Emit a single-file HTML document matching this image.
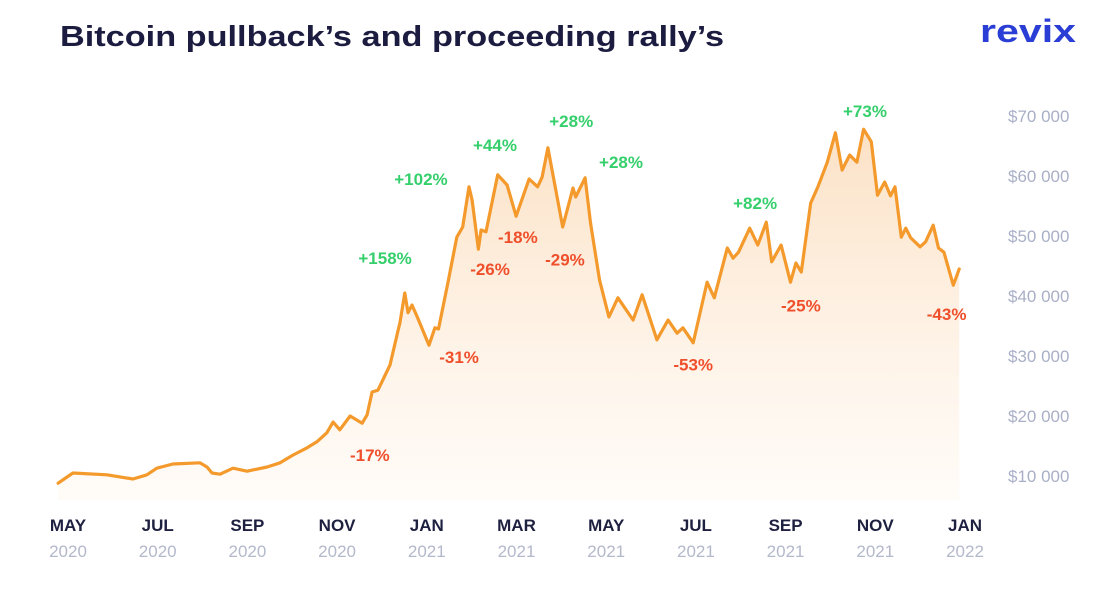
<!DOCTYPE html>
<html><head><meta charset="utf-8"><style>
body{margin:0;background:#fff;width:1104px;height:589px;overflow:hidden;font-family:"Liberation Sans",sans-serif}
svg{display:block}
</style></head><body>
<svg id="chart" width="1104" height="589" viewBox="0 0 1104 589">
<defs><linearGradient id="fillg" x1="0" y1="0" x2="0" y2="1">
<stop offset="0" stop-color="#fbdcbb" stop-opacity="0.85"/><stop offset="1" stop-color="#fff8f0" stop-opacity="0.5"/></linearGradient></defs>
<text x="60" y="46" font-size="29" font-weight="bold" fill="#1b1c3f" textLength="664" lengthAdjust="spacingAndGlyphs">Bitcoin pullback’s and proceeding rally’s</text>
<text x="1076" y="42" text-anchor="end" font-size="32" font-weight="bold" fill="#2a3ed6" textLength="96" lengthAdjust="spacingAndGlyphs">revix</text>
<g id="area"></g><g id="yaxis"></g><g id="xaxis"></g><g id="labels"></g>
</svg>
<script>
const months=[-0.22,0.11,0.87,1.45,1.76,1.98,2.34,2.94,3.10,3.21,3.39,3.68,3.99,4.44,4.73,5.02,5.33,5.55,5.77,5.91,6.06,6.29,6.56,6.67,6.78,6.91,7.02,7.18,7.36,7.40,7.51,7.58,7.67,7.80,8.05,8.18,8.26,8.47,8.67,8.80,8.94,9.01,9.15,9.21,9.32,9.58,9.79,9.99,10.28,10.47,10.57,10.70,11.03,11.26,11.32,11.53,11.65,11.85,12.06,12.26,12.60,12.80,13.13,13.38,13.58,13.71,13.94,14.25,14.41,14.70,14.83,14.95,15.20,15.38,15.57,15.69,15.90,16.11,16.23,16.35,16.56,16.72,16.93,17.11,17.26,17.43,17.59,17.74,17.91,18.05,18.21,18.34,18.44,18.58,18.68,18.79,19.00,19.12,19.29,19.41,19.53,19.74,19.87];
const prices=[8800,10500,10200,9500,10200,11300,12000,12200,11500,10500,10300,11300,10800,11500,12200,13500,14700,15700,17200,19000,17700,20000,18800,20200,24000,24300,26000,28500,34300,35500,40500,37200,38500,36300,31800,34700,34500,42200,49800,51500,58200,56000,47800,51000,50700,60200,58500,53300,59500,58200,59800,64700,51500,58000,56500,59700,52200,42700,36500,39700,36000,40200,32700,36000,33800,34700,32200,42300,39700,48000,46300,47300,51300,48500,52300,45700,48500,42300,45500,44000,55500,58200,62300,67200,61000,63500,62300,67800,65700,56800,59000,56700,58200,49800,51300,49700,48200,49000,51800,48000,47300,41800,44500];
const yTicks=[70000,60000,50000,40000,30000,20000,10000];
const yTickLabels=["$70 000","$60 000","$50 000","$40 000","$30 000","$20 000","$10 000"];
const xTickMonths=[0,2,4,6,8,10,12,14,16,18,20];
const xTickNames=["MAY","JUL","SEP","NOV","JAN","MAR","MAY","JUL","SEP","NOV","JAN"];
const xTickYears=["2020","2020","2020","2020","2021","2021","2021","2021","2021","2021","2022"];
const annoText=["+158%","+102%","+44%","+28%","+28%","+82%","+73%","-17%","-31%","-26%","-18%","-29%","-53%","-25%","-43%"];
const annoMonth=[7.07,7.87,9.52,11.22,12.33,15.32,17.77,6.73,8.72,9.41,10.03,11.08,13.94,16.34,19.59];
const annoPrice=[46300,59500,65200,69200,62300,55500,70800,13500,29800,44500,49800,46100,28600,38400,37000];
const NS="http://www.w3.org/2000/svg";
const X=m=>68+m*44.85, Y=v=>476-(v-10000)*0.006;
function mk(tag,attrs,parent,txt){const e=document.createElementNS(NS,tag);for(const k in attrs)e.setAttribute(k,attrs[k]);if(txt!==undefined)e.textContent=txt;parent.appendChild(e);return e;}
const area=document.getElementById('area');
let d=months.map((m,i)=>(i?'L':'M')+X(m).toFixed(1)+' '+Y(prices[i]).toFixed(1)).join(' ');
const base=Y(6000);
const fill=mk('path',{d:d+` L${X(months[months.length-1]).toFixed(1)} ${base} L${X(months[0]).toFixed(1)} ${base} Z`,fill:'url(#fillg)'},area);


const line=mk('path',{d:d,fill:'none',stroke:'#f49a2c','stroke-width':3.2,'stroke-linejoin':'round','stroke-linecap':'round'},area);


const ya=document.getElementById('yaxis');
yTicks.forEach((v,i)=>{const t=mk('text',{x:1008,y:Y(v)+6,'font-size':17,fill:'#a9afc6'},ya,yTickLabels[i]);

});
const xa=document.getElementById('xaxis');
xTickMonths.forEach((m,i)=>{const a=mk('text',{x:X(m),y:531,'text-anchor':'middle','font-size':17,'font-weight':'bold',fill:'#1e2040'},xa,xTickNames[i]);


const b=mk('text',{x:X(m),y:557,'text-anchor':'middle','font-size':17,fill:'#b3b8cb'},xa,xTickYears[i]);

});
const lb=document.getElementById('labels');
annoText.forEach((s,i)=>{const up=s[0]==='+';const t=mk('text',{x:X(annoMonth[i]),y:Y(annoPrice[i])+6,'text-anchor':'middle','font-size':17,'font-weight':'bold',fill:up?'#35cf6c':'#ef4f2b'},lb,s);

});
</script>
</body></html>
